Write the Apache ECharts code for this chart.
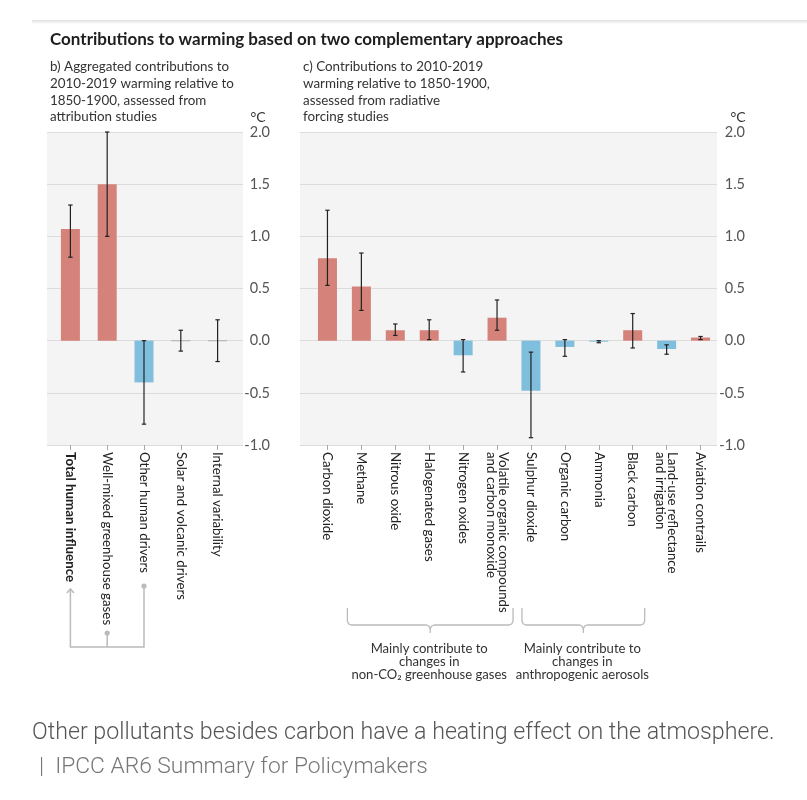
<!DOCTYPE html>
<html><head><meta charset="utf-8">
<script src="https://cdn.jsdelivr.net/npm/echarts@6/dist/echarts.min.js"></script>
<style>html,body{margin:0;padding:0;background:#fff}#c{width:807px;height:800px}</style>
</head><body><div id="c"></div>
<script>
// ---- data ----
const catsB = ['Total human influence','Well-mixed greenhouse gases','Other human drivers','Solar and volcanic drivers','Internal variability'];
const valsB = [1.07, 1.50, -0.40, 0, 0];
const lowB  = [0.80, 1.00, -0.80, -0.10, -0.20];
const highB = [1.30, 2.00, 0.00, 0.10, 0.20];

const catsC = ['Carbon dioxide','Methane','Nitrous oxide','Halogenated gases','Nitrogen oxides','Volatile organic compounds\nand carbon monoxide','Sulphur dioxide','Organic carbon','Ammonia','Black carbon','Land-use reflectance\nand irrigation','Aviation contrails'];
const valsC = [0.79, 0.52, 0.10, 0.10, -0.14, 0.22, -0.48, -0.06, -0.01, 0.10, -0.08, 0.03];
const lowC  = [0.53, 0.29, 0.05, 0.01, -0.30, 0.10, -0.93, -0.15, -0.02, -0.07, -0.13, 0.01];
const highC = [1.25, 0.84, 0.16, 0.20, 0.01, 0.39, -0.11, 0.01, 0.00, 0.26, -0.04, 0.04];

const yTicks = [-1.0, -0.5, 0.0, 0.5, 1.0, 1.5, 2.0];

const titleText = 'Contributions to warming based on two complementary approaches';
const subB = 'b) Aggregated contributions to\n2010-2019 warming relative to\n1850-1900, assessed from\nattribution studies';
const subC = 'c) Contributions to 2010-2019\nwarming relative to 1850-1900,\nassessed from radiative\nforcing studies';
const groupC1 = 'Mainly contribute to\nchanges in\nnon-CO\u2082 greenhouse gases';
const groupC2 = 'Mainly contribute to\nchanges in\nanthropogenic aerosols';
const caption1 = 'Other pollutants besides carbon have a heating effect on the atmosphere.';
const caption2 = '|  IPCC AR6 Summary for Policymakers';

// ---- styles ----
const RED = '#d4827a', BLUE = '#7fbedc';
const FONT = 'Lato, "Noto Sans", sans-serif';
const yMin = yTicks[0], yMax = yTicks[yTicks.length - 1], yInt = yTicks[1] - yTicks[0];
const TOP = 132, H = 313;

const chart = echarts.init(document.getElementById('c'), null, {renderer: 'canvas'});

function bgY(gi) {
  return {gridIndex: gi, type: 'value', position: 'right', min: yMin, max: yMax, interval: yInt,
    axisLine: {show: false}, axisTick: {show: false},
    splitLine: {show: true, lineStyle: {color: '#dcdcdc', width: 1}},
    axisLabel: {align: 'right', margin: gi === 0 ? 27 : 28, fontSize: 14.5, color: '#555', fontFamily: FONT,
      formatter: v => v.toFixed(1)}};
}
function barY(gi) {
  return {gridIndex: gi, type: 'value', min: yMin, max: yMax, interval: yInt, show: false,
    splitLine: {show: false}};
}
function catX(gi, cats, boldFirst) {
  return {gridIndex: gi, type: 'category',
    data: cats.map((c, i) => (boldFirst && i === 0) ? {value: c, textStyle: {fontWeight: 'bold'}} : c),
    axisLine: {show: false, onZero: false},
    axisTick: {show: true, alignWithLabel: true, length: 5, lineStyle: {color: '#aaa'}},
    axisLabel: {rotate: -90, interval: 0, fontSize: 13.3, color: '#222', fontFamily: FONT, margin: 7, lineHeight: 12}};
}
function bars(xi, vals) {
  return {type: 'bar', xAxisIndex: xi, yAxisIndex: xi, barWidth: 19, z: 3,
    data: vals.map(v => ({value: v, itemStyle: v === 0 ? {color: '#999', borderColor: '#bbb', borderWidth: 1} : {color: v > 0 ? RED : BLUE}})),
    emphasis: {disabled: true}};
}
function errs(xi, low, high) {
  return {type: 'custom', xAxisIndex: xi, yAxisIndex: xi, z: 5,
    data: low.map((l, i) => [i, l, high[i]]),
    renderItem(params, api) {
      const p1 = api.coord([api.value(0), api.value(1)]);
      const p2 = api.coord([api.value(0), api.value(2)]);
      const x = p1[0], w = 2.2, st = {stroke: '#222', lineWidth: 1.2};
      return {type: 'group', children: [
        {type: 'line', shape: {x1: x, y1: p1[1], x2: x, y2: p2[1]}, style: st},
        {type: 'line', shape: {x1: x - w, y1: p1[1], x2: x + w, y2: p1[1]}, style: st},
        {type: 'line', shape: {x1: x - w, y1: p2[1], x2: x + w, y2: p2[1]}, style: st}
      ]};
    }};
}

const option = {
  animation: false,
  backgroundColor: '#fff',
  grid: [
    {left: 47, top: TOP, width: 196, height: H, show: true, backgroundColor: '#f4f4f4', borderWidth: 0},
    {left: 52, top: TOP, width: 184, height: H},
    {left: 300, top: TOP, width: 417, height: H, show: true, backgroundColor: '#f4f4f4', borderWidth: 0},
    {left: 310.5, top: TOP, width: 407, height: H}
  ],
  xAxis: [
    {gridIndex: 0, type: 'value', show: false, splitLine: {show: false}},
    catX(1, catsB, true),
    {gridIndex: 2, type: 'value', show: false, splitLine: {show: false}},
    catX(3, catsC, false)
  ],
  yAxis: [bgY(0), barY(1), bgY(2), barY(3)],
  series: [
    bars(1, valsB), errs(1, lowB, highB),
    bars(3, valsC), errs(3, lowC, highC)
  ]
};
chart.setOption(option);

// ---- annotations aligned to category positions ----
const px = (ax, i) => chart.convertToPixel({xAxisIndex: ax}, i);
const G = '#bbb';
const g = [];
g.push({type: 'rect', shape: {x: 32, y: 20, width: 775, height: 4},
  style: {fill: new echarts.graphic.LinearGradient(0, 0, 0, 1, [{offset: 0, color: '#dedede'}, {offset: 1, color: '#ffffff'}])}});
g.push({type: 'text', style: {text: titleText, x: 50, y: 40, font: 'bold 17px ' + FONT, fill: '#1e1e1e', verticalAlign: 'middle'}});
g.push({type: 'text', style: {text: subB, x: 50, y: 58.5, font: '13.4px ' + FONT, fill: '#333', lineHeight: 16.7, verticalAlign: 'top'}});
g.push({type: 'text', style: {text: subC, x: 303, y: 58.5, font: '13.4px ' + FONT, fill: '#333', lineHeight: 16.7, verticalAlign: 'top'}});
g.push({type: 'text', style: {text: '\u00B0C', x: 258, y: 117, font: '14px ' + FONT, fill: '#333', align: 'center', verticalAlign: 'middle'}});
g.push({type: 'text', style: {text: '\u00B0C', x: 738, y: 117, font: '14px ' + FONT, fill: '#333', align: 'center', verticalAlign: 'middle'}});

// panel b connector
const xT = px(1, 0), xW = px(1, 1), xO = px(1, 2);
const ls = {stroke: G, lineWidth: 1.5, fill: null};
g.push({type: 'polyline', shape: {points: [[xT, 589], [xT, 647], [xO, 647], [xO, 586]]}, style: ls});
g.push({type: 'line', shape: {x1: xW, y1: 633, x2: xW, y2: 647}, style: ls});
g.push({type: 'polyline', shape: {points: [[xT - 3.5, 593], [xT, 589], [xT + 3.5, 593]]}, style: ls});
g.push({type: 'circle', shape: {cx: xW, cy: 633, r: 2.6}, style: {fill: G}});
g.push({type: 'circle', shape: {cx: xO, cy: 586, r: 2.6}, style: {fill: G}});

// panel c braces
function brace(x1, x2, label) {
  const xc = (x1 + x2) / 2, y0 = 608, yb = 625, r = 4;
  const c = 1.2;
  g.push({type: 'polyline', shape: {points: [
    [x1, y0], [x1, yb - r], [x1 + c, yb - c], [x1 + r, yb], [xc - r, yb], [xc - c, yb + c], [xc, yb + r], [xc, yb + 8]
  ]}, style: {stroke: G, lineWidth: 1.3, fill: null}});
  g.push({type: 'polyline', shape: {points: [
    [xc, yb + r], [xc + c, yb + c], [xc + r, yb], [x2 - r, yb], [x2 - c, yb - c], [x2, yb - r], [x2, y0]
  ]}, style: {stroke: G, lineWidth: 1.3, fill: null}});
  g.push({type: 'text', style: {text: label, x: xc - 1, y: 642, font: '13.1px ' + FONT, fill: '#333', lineHeight: 13.2, align: 'center', verticalAlign: 'top'}});
}
brace(px(3, 1) - 14, px(3, 5) + 16, groupC1);
brace(px(3, 6) - 9, px(3, 9) + 12, groupC2);

g.push({type: 'text', style: {text: caption1, x: 32, y: 733, font: '300 23.2px Roboto, sans-serif', fill: '#555', verticalAlign: 'middle'}});
g.push({type: 'text', style: {text: caption2, x: 39, y: 767, font: '300 22.8px Roboto, sans-serif', fill: '#777', verticalAlign: 'middle'}});

chart.setOption({graphic: g});
</script>
</body></html>
